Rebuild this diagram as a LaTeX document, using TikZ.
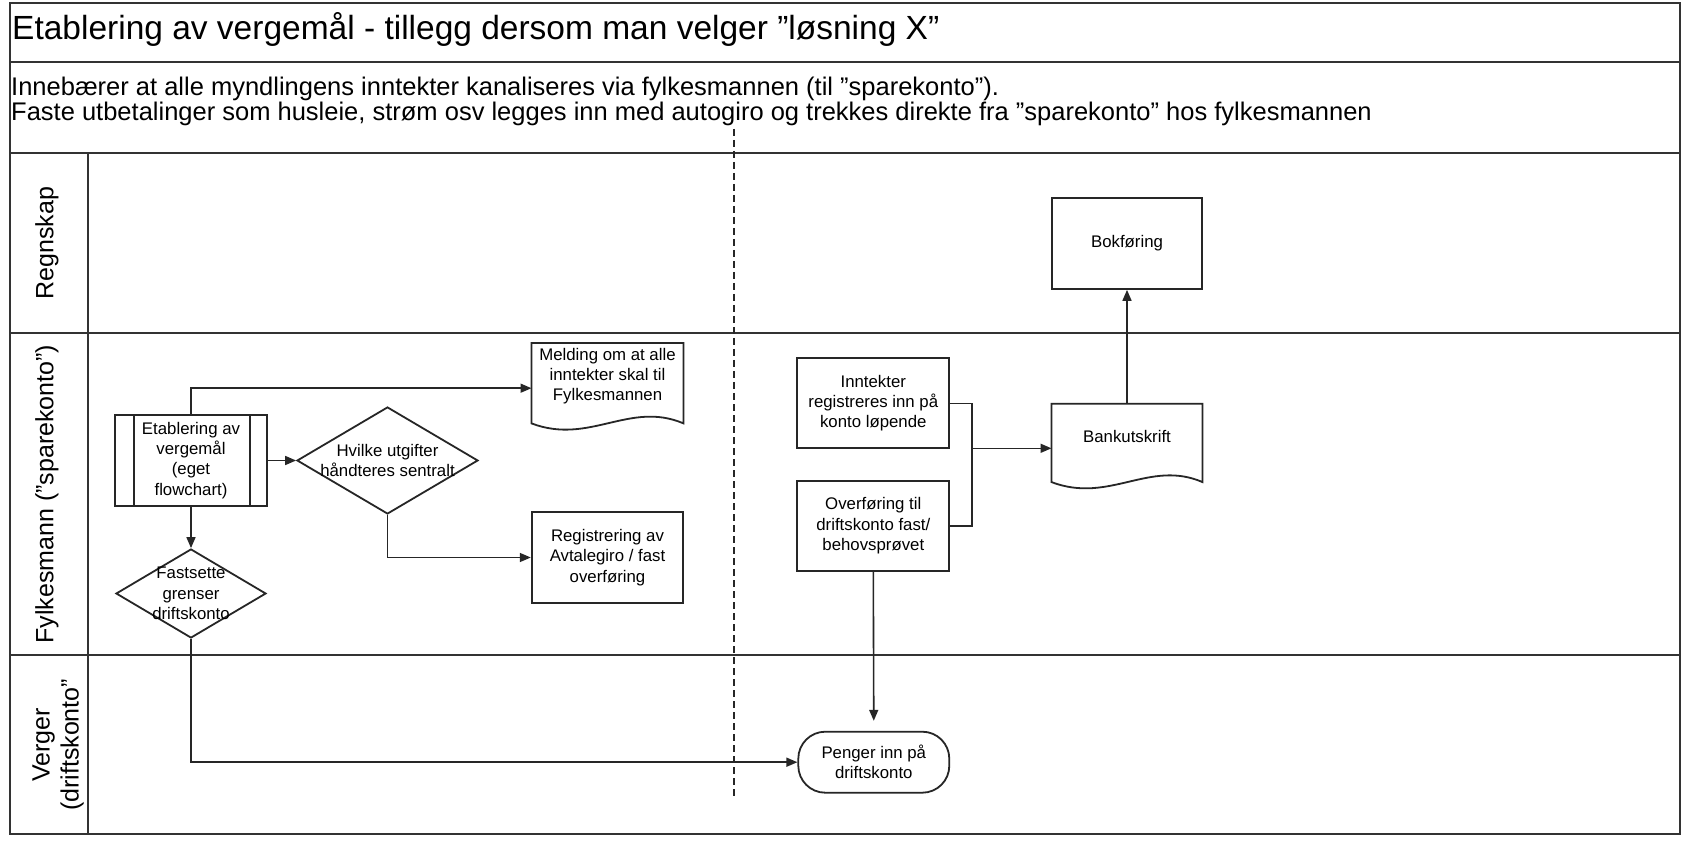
\documentclass[tikz,border=0pt]{standalone}
\usepackage{fontspec}
\setmainfont{Liberation Sans}
\usetikzlibrary{arrows.meta,calc,shapes.geometric}
\newcommand\boxfont{\fontsize{16.8}{20.2}\selectfont}
\newcommand\lanefont{\fontsize{25}{29}\selectfont}
\newcommand\headfont{\fontsize{33.5}{38}\selectfont}
\newcommand\notefont{\fontsize{25.5}{24.7}\selectfont\lineskiplimit=-50pt\lineskip=0pt}
\begin{document}
\begin{tikzpicture}[x=1pt,y=-1pt,
  outerline/.style={draw=black!80,line width=2.4pt},
  shapeline/.style={draw=black!85,line width=1.8pt},
  box/.style={shapeline,fill=white,rectangle,inner sep=0pt,align=center,font=\boxfont},
  docshape/.style={rectangle,inner sep=0pt,minimum width=151.6pt,minimum height=80pt},
  decision/.style={shapeline,fill=white,diamond,inner sep=0pt},
  flowarrow/.style={draw=black!85,line width=1.6pt,-{Triangle[length=11pt,width=9pt]}},
  branch/.style={draw=black!85,line width=1.6pt},
  lanelabel/.style={rotate=90,font=\lanefont,align=center,inner sep=0pt},
  txt/.style={font=\boxfont,align=center,inner sep=0pt}
]
\useasboundingbox (0,0) rectangle (1682,842);
\fill[white] (0,0) rectangle (1682,842);

% frame, header rows and swimlanes
\draw[outerline] (10,3) rectangle (1680,834);
\draw[outerline] (10,62) -- (1680,62);
\draw[outerline] (10,153) -- (1680,153);
\draw[outerline] (10,333) -- (1680,333);
\draw[outerline] (10,655) -- (1680,655);
\draw[outerline] (88,153) -- (88,834);

\node[anchor=west,font=\headfont,inner sep=0pt] (title) at (12,29.5)
  {Etablering av vergemål - tillegg dersom man velger ”løsning X”};
\node[anchor=west,font=\notefont,align=left,inner sep=0pt] (note) at (11,101.5)
  {Innebærer at alle myndlingens inntekter kanaliseres via fylkesmannen (til ”sparekonto”).\\
   Faste utbetalinger som husleie, strøm osv legges inn med autogiro og trekkes direkte fra ”sparekonto” hos fylkesmannen};

% phase separator
\draw[draw=black!85,line width=1.4pt,dash pattern=on 7pt off 4pt] (734,129) -- (734,799);

% lane titles
\node[lanelabel] (lreg) at (47,243) {Regnskap};
\node[lanelabel] (lfyl) at (47,494) {Fylkesmann (”sparekonto”)};
\node[lanelabel] (lver) at (58,745) {Verger\\(driftskonto”};

% left phase
\node[box,minimum width=152pt,minimum height=91pt] (sub) at (191,460.5)
  {Etablering av\\vergemål\\(eget\\flowchart)};
\draw[shapeline] ($(sub.north west)+(20,0)$) -- ($(sub.south west)+(20,0)$);
\draw[shapeline] ($(sub.north east)+(-18,0)$) -- ($(sub.south east)+(-18,0)$);

\node[decision,minimum width=181pt,minimum height=107pt,
  label={[txt]center:Hvilke utgifter\\håndteres sentralt}] (hv) at (387.5,460.5) {};
\node[decision,minimum width=150pt,minimum height=89pt,
  label={[txt]center:Fastsette\\grenser\\driftskonto}] (fs) at (191,593.5) {};

\node[docshape,minimum height=80pt,
  label={[txt,yshift=7pt]center:Melding om at alle\\inntekter skal til\\Fylkesmannen}] (mel) at (607.5,383.2) {};
\draw[shapeline] (mel.north west) -- (mel.north east) -- (mel.south east)
  .. controls ($(mel.south west)+(98,-23)$) and ($(mel.south west)+(58,22)$) .. (mel.south west) -- cycle;

\node[box,minimum width=151.6pt,minimum height=90.4pt] (reg) at (607.5,557.5)
  {Registrering av\\Avtalegiro / fast\\overføring};

% right phase
\node[box,minimum width=152pt,minimum height=90pt] (inn) at (873.3,403.3)
  {Inntekter\\registreres inn på\\konto løpende};
\node[box,minimum width=152pt,minimum height=90pt] (ove) at (873.3,525.7)
  {Overføring til\\driftskonto fast/\\behovsprøvet};
\node[box,minimum width=150.6pt,minimum height=90.7pt] (bok) at (1127,243.6) {Bokføring};

\node[docshape,minimum width=150.6pt,minimum height=78pt,
  label={[txt,yshift=6pt]center:Bankutskrift}] (bank) at (1127,442.9) {};
\draw[shapeline] (bank.north west) -- (bank.north east) -- (bank.south east)
  .. controls ($(bank.south west)+(98,-23)$) and ($(bank.south west)+(58,22)$) .. (bank.south west) -- cycle;

\node[box,rounded corners=27pt,minimum width=151pt,minimum height=61pt] (pen) at (873.8,762.2)
  {Penger inn på\\driftskonto};

% connectors
\draw[flowarrow] (sub.north) |- ($(mel.west)+(0,5)$);
\draw[flowarrow] (sub.east) -- (hv.west);
\draw[flowarrow] (hv.south) |- (reg.west);
\draw[flowarrow] (sub.south) -- (fs.north);
\draw[flowarrow] (fs.south) |- (pen.west);

\coordinate (jn) at (971.7,448.3);
\draw[branch] (inn.east) -| (jn);
\draw[branch] (ove.east) -| (jn);
\draw[flowarrow] (jn) -- (jn -| bank.west);
\draw[flowarrow] (bank.north) -- (bok.south);
\draw[flowarrow,shorten >=10pt] (ove.south) -- (pen.north);
\end{tikzpicture}
\end{document}
